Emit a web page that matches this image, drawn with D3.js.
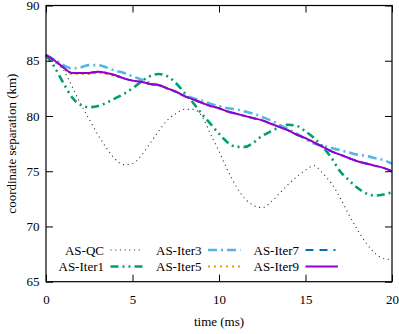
<!DOCTYPE html>
<html>
<head>
<meta charset="utf-8">
<script src="https://cdn.jsdelivr.net/npm/d3@7"></script>
<style>
  body { margin: 0; background: #fff; font-family: "Liberation Serif", serif; }
  svg { display: block; }
</style>
</head>
<body>
<script>
const width = 399;
const height = 334;

// time (ms)
const time = [0, 0.5, 1, 1.5, 2, 2.5, 3, 3.5, 4, 4.5, 5, 5.5, 6, 6.5, 7, 7.5, 8, 8.5, 9, 9.5,
  10, 10.5, 11, 11.5, 12, 12.5, 13, 13.5, 14, 14.5, 15, 15.5, 16, 16.5, 17, 17.5, 18, 18.5, 19, 19.5, 20];

// coordinate separation (km)
const asQC = [85.5, 85.1, 84.2, 82.7, 81.1, 79.7, 78.3, 77.1, 76.1, 75.6, 75.7, 76.4, 77.5, 78.6, 79.6, 80.2,
  80.6, 80.6, 80.0, 78.4, 76.8, 75.1, 73.6, 72.5, 71.9, 71.7, 72.2, 73.0, 73.8, 74.5, 75.1, 75.5,
  74.8, 73.9, 72.6, 71.1, 69.7, 68.5, 67.6, 67.1, 67.0];
const asIter1 = [85.5, 84.4, 83.0, 81.7, 81.0, 80.8, 80.9, 81.2, 81.6, 82.0, 82.5, 83.1, 83.6, 83.8, 83.6, 83.0,
  82.1, 81.2, 80.2, 79.3, 78.4, 77.6, 77.2, 77.2, 77.6, 78.2, 78.6, 79.0, 79.2, 79.1, 78.6, 78.0,
  77.2, 76.2, 75.0, 74.2, 73.5, 73.0, 72.8, 72.9, 73.1];
const asIter3 = [85.5, 85.1, 84.6, 84.3, 84.4, 84.6, 84.6, 84.4, 84.1, 83.9, 83.6, 83.3, 83.0, 82.8, 82.5, 82.2,
  81.9, 81.6, 81.4, 81.1, 80.9, 80.7, 80.6, 80.4, 80.2, 79.9, 79.6, 79.2, 78.8, 78.4, 77.9, 77.5,
  77.3, 77.1, 76.9, 76.7, 76.5, 76.4, 76.2, 76.0, 75.7];
const asIter5 = [85.5, 84.9, 84.3, 83.8, 83.8, 83.8, 83.9, 83.8, 83.6, 83.4, 83.2, 83.1, 82.9, 82.8, 82.5, 82.2,
  81.8, 81.5, 81.2, 80.9, 80.7, 80.4, 80.2, 80.0, 79.8, 79.6, 79.3, 79.0, 78.7, 78.3, 78.0, 77.6,
  77.2, 76.8, 76.5, 76.2, 75.9, 75.7, 75.5, 75.3, 75.0];
const asIter7 = [85.5, 85.0, 84.4, 83.9, 83.9, 83.9, 84.0, 83.9, 83.7, 83.4, 83.2, 83.1, 82.9, 82.8, 82.5, 82.2,
  81.8, 81.5, 81.2, 80.9, 80.7, 80.4, 80.2, 80.0, 79.8, 79.6, 79.3, 79.0, 78.7, 78.3, 78.0, 77.6,
  77.2, 76.8, 76.5, 76.2, 75.9, 75.7, 75.5, 75.3, 75.0];
const asIter9 = [85.5, 85.0, 84.4, 83.9, 83.9, 83.9, 84.0, 83.9, 83.7, 83.4, 83.2, 83.1, 82.9, 82.8, 82.5, 82.2,
  81.8, 81.5, 81.2, 80.9, 80.7, 80.4, 80.2, 80.0, 79.8, 79.6, 79.3, 79.0, 78.7, 78.3, 78.0, 77.6,
  77.2, 76.8, 76.5, 76.2, 75.9, 75.7, 75.5, 75.3, 75.0];

const seriesNames = ["AS-QC", "AS-Iter1", "AS-Iter3", "AS-Iter5", "AS-Iter7", "AS-Iter9"];
const seriesValues = [asQC, asIter1, asIter3, asIter5, asIter7, asIter9];
const xTicks = [0, 5, 10, 15, 20];
const yTicks = [65, 70, 75, 80, 85, 90];

// line styles, same order as seriesNames
const styles = [
  {color: "#333", width: 1.1, dash: "1.1,3.6"},
  {color: "#009e73", width: 2.6, dash: "8,4,2,4,2,4"},
  {color: "#56b4e9", width: 2.6, dash: "9,4,2,4"},
  {color: "#e69f00", width: 2, dash: "2,4"},
  {color: "#0072b2", width: 2, dash: "8,6,8,6,2,6"},
  {color: "#9400d3", width: 2, dash: null}
];

const font = "Liberation Serif";

const margin = {left: 46, right: 7, top: 5.5, bottom: 52.3};
const x = d3.scaleLinear().domain([0, 20]).range([margin.left, width - margin.right]);
const y = d3.scaleLinear().domain([65, 90]).range([height - margin.bottom, margin.top]);

const svg = d3.select("body").append("svg")
    .attr("width", width)
    .attr("height", height)
    .attr("font-family", font)
    .attr("font-size", 13);

const line = d3.line()
    .curve(d3.curveMonotoneX)
    .x((d, i) => x(time[i]))
    .y(d => y(d));

// curves
svg.append("g")
    .attr("fill", "none")
  .selectAll("path")
  .data(seriesValues)
  .join("path")
    .attr("stroke", (d, i) => styles[i].color)
    .attr("stroke-width", (d, i) => styles[i].width)
    .attr("stroke-dasharray", (d, i) => styles[i].dash)
    .attr("d", line);

// axes, ticks inward on all four sides
const tick = 7;
const fixAxis = g => {
  g.attr("font-family", font).attr("font-size", 13);
  g.select(".domain").remove();
  g.selectAll(".tick line").attr("stroke", "#000");
  g.selectAll(".tick text").attr("fill", "#000");
};
svg.append("g")
    .attr("transform", `translate(0,${y(65)})`)
    .call(d3.axisBottom(x).tickValues(xTicks).tickSize(-tick).tickPadding(13).tickFormat(d3.format("d")))
    .call(fixAxis);
svg.append("g")
    .attr("transform", `translate(0,${y(90)})`)
    .call(d3.axisTop(x).tickValues(xTicks).tickSize(-tick).tickFormat(""))
    .call(fixAxis);
svg.append("g")
    .attr("transform", `translate(${x(0)},0)`)
    .call(d3.axisLeft(y).tickValues(yTicks).tickSize(-tick).tickPadding(6.5).tickFormat(d3.format("d")))
    .call(fixAxis);
svg.append("g")
    .attr("transform", `translate(${x(20)},0)`)
    .call(d3.axisRight(y).tickValues(yTicks).tickSize(-tick).tickFormat(""))
    .call(fixAxis);

svg.append("rect")
    .attr("x", x(0))
    .attr("y", y(90))
    .attr("width", x(20) - x(0))
    .attr("height", y(65) - y(90))
    .attr("fill", "none")
    .attr("stroke", "#000")
    .attr("stroke-width", 1.2);

// axis titles
svg.append("text")
    .attr("x", (x(0) + x(20)) / 2)
    .attr("y", 326)
    .attr("text-anchor", "middle")
    .text("time (ms)");
svg.append("text")
    .attr("transform", `translate(16,${(y(65) + y(90)) / 2}) rotate(-90)`)
    .attr("text-anchor", "middle")
    .text("coordinate separation (km)");

// legend: two rows, three columns
const legendOrder = [0, 2, 4, 1, 3, 5];
const legend = svg.append("g")
  .selectAll("g")
  .data(legendOrder)
  .join("g")
    .attr("transform", (d, k) => `translate(${104 + (k % 3) * 97.5},${250 + Math.floor(k / 3) * 16.5})`);
legend.append("text")
    .attr("text-anchor", "end")
    .attr("dy", "0.35em")
    .text(d => seriesNames[d]);
legend.append("line")
    .attr("x1", 6.5)
    .attr("x2", 39)
    .attr("stroke", d => styles[d].color)
    .attr("stroke-width", d => styles[d].width)
    .attr("stroke-dasharray", d => styles[d].dash);
</script>
</body>
</html>
